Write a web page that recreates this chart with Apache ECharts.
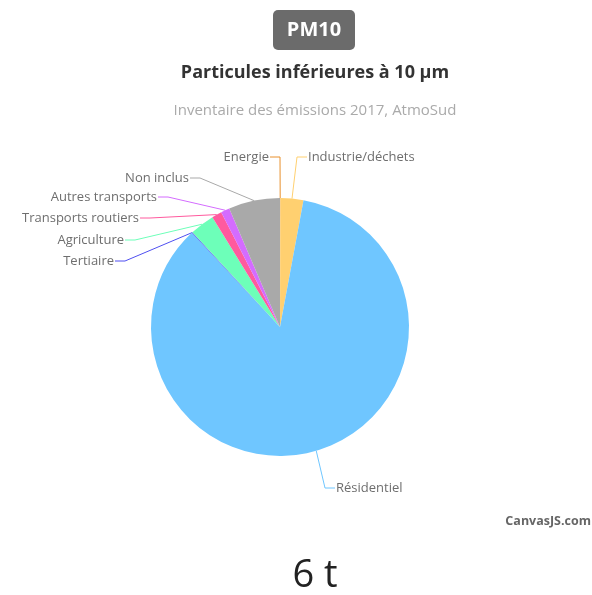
<!DOCTYPE html>
<html>
<head>
<meta charset="utf-8">
<script src="https://cdn.jsdelivr.net/npm/echarts@6/dist/echarts.min.js"></script>
<style>
  html, body { margin: 0; padding: 0; background: #ffffff; }
  #chart { width: 592px; height: 595px; }
</style>
</head>
<body>
<div id="chart"></div>
<script>
// PM10 emissions by sector (tonnes), 2017 inventory
const sectors = ['Energie', 'Industrie/déchets', 'Résidentiel', 'Tertiaire', 'Agriculture', 'Transports routiers', 'Autres transports', 'Non inclus'];
const emissions = [0.003, 0.172, 5.106, 0.006, 0.186, 0.075, 0.066, 0.386];
const sliceColors = ['#e8902c', '#ffd070', '#6fc6ff', '#4f4ff0', '#6dffb9', '#ff5a9e', '#d46cff', '#a9a9a9'];
const pollutant = 'PM10';
const heading = 'Particules inférieures à 10 µm';
const source = 'Inventaire des émissions 2017, AtmoSud';
const totalLabel = '6 t';

// Where each slice's label sits: elbow point of the leader line and text side
const labelPlacement = [
  { elbow: [280, 157], side: 'left' },
  { elbow: [297, 157], side: 'right' },
  { elbow: [325, 488], side: 'right' },
  { elbow: [125, 261], side: 'left' },
  { elbow: [135, 240], side: 'left' },
  { elbow: [150, 218], side: 'left' },
  { elbow: [168, 197], side: 'left' },
  { elbow: [200, 178], side: 'left' }
];

const FONT = 'Open Sans';
const chart = echarts.init(document.getElementById('chart'), null, { renderer: 'canvas' });

chart.setOption({
  animation: false,
  graphic: [
    {
      type: 'rect', shape: { x: 273, y: 10, width: 82, height: 40, r: 5 },
      style: { fill: '#6b6b6b' }
    },
    {
      type: 'text', x: 314, y: 30,
      style: { text: pollutant, fill: '#ffffff', font: 'bold 20px "' + FONT + '"', align: 'center', verticalAlign: 'middle' }
    },
    {
      type: 'text', x: 315, y: 73,
      style: { text: heading, fill: '#333333', font: 'bold 18px "' + FONT + '"', align: 'center', verticalAlign: 'middle' }
    },
    {
      type: 'text', x: 315, y: 111,
      style: { text: source, fill: '#aaaaaa', font: '15px "' + FONT + '"', align: 'center', verticalAlign: 'middle' }
    },
    {
      type: 'text', x: 591, y: 521,
      style: { text: 'CanvasJS.com', fill: '#666666', font: 'bold 12.5px "' + FONT + '"', align: 'right', verticalAlign: 'middle' }
    },
    {
      type: 'text', x: 315, y: 576,
      style: { text: totalLabel, fill: '#222222', font: '38px "' + FONT + '"', align: 'center', verticalAlign: 'middle' }
    }
  ],
  series: [{
    type: 'pie',
    center: [280, 327],
    radius: 129,
    startAngle: 90,
    clockwise: true,
    avoidLabelOverlap: false,
    data: sectors.map((name, i) => ({ name, value: emissions[i], itemStyle: { color: sliceColors[i] } })),
    label: { color: '#6e6e6e', fontSize: 13, fontFamily: FONT },
    labelLine: { show: true, length: 15, length2: 20, lineStyle: { width: 1 } },
    emphasis: { disabled: true }
  }],
  labelLayout: null
});

// Place labels at their leader-line elbows, keeping the slice-edge start point
chart.setOption({
  series: [{
    labelLayout: function (p) {
      const place = labelPlacement[p.dataIndex];
      const start = p.labelLinePoints[0];
      const ex = place.elbow[0], ey = place.elbow[1];
      const left = place.side === 'left';
      const endX = left ? ex - 10 : ex + 10;
      return {
        x: left ? endX - 1 : endX + 1,
        y: ey,
        align: left ? 'right' : 'left',
        verticalAlign: 'middle',
        labelLinePoints: [start, [ex, ey], [endX, ey]]
      };
    }
  }]
});
</script>
</body>
</html>
